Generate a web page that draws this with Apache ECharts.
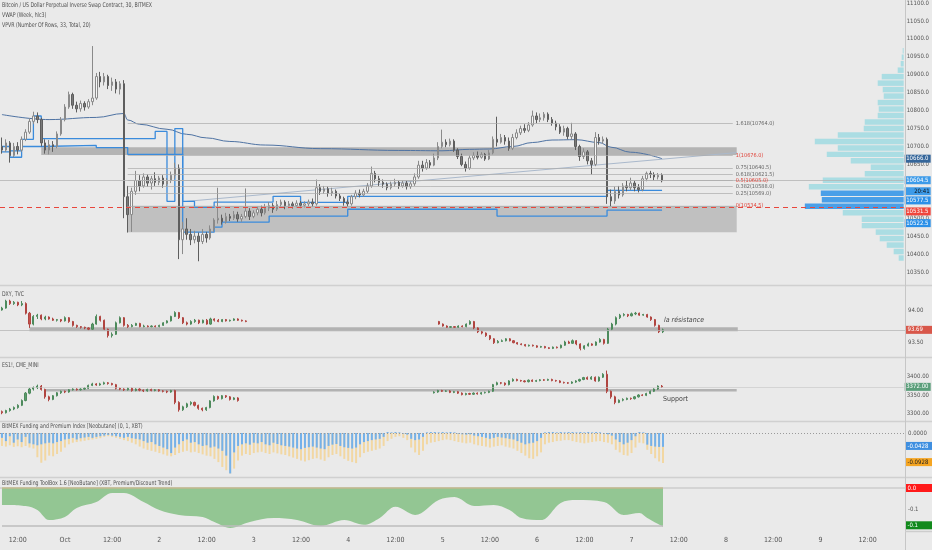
<!DOCTYPE html>
<html>
<head>
<meta charset="utf-8">
<script src="https://cdn.jsdelivr.net/npm/echarts@6.0.0/dist/echarts.min.js"></script>
<style>
html,body{margin:0;padding:0;background:#eaeaea;}
#chart{width:932px;height:550px;}
</style>
</head>
<body>
<div id="chart"></div>
<script>
// ================= DATA =================
const slotStartUTC = Date.UTC(2020, 8, 30, 8);   // first hourly slot: 30 Sep 2020 08:00 UTC
const slotCount = 230;                              // visible hourly slots
const monthNames = ['Jan','Feb','Mar','Apr','May','Jun','Jul','Aug','Sep','Oct','Nov','Dec'];

const paneTitles = [
  'Bitcoin / US Dollar Perpetual Inverse Swap Contract, 30, BITMEX',
  'VWAP (Week, hlc3)',
  'VPVR (Number Of Rows, 33, Total, 20)',
  'DXY, TVC',
  'ES1!, CME_MINI',
  'BitMEX Funding and Premium Index [Neobutane] (0, 1, XBT)',
  'BitMEX Funding ToolBox 1.6 [NeoButane] (XBT, Premium/Discount Trend)'
];

// BTC hourly candles [open, close, low, high], slot 0..168
const btcOHLC = [
[10700,10690,10680,10725],[10690,10710,10685,10720],[10710,10675,10655,10715],[10675,10700,10670,10710],
[10700,10690,10678,10712],[10690,10720,10685,10728],[10720,10740,10715,10748],[10740,10770,10735,10778],
[10770,10785,10762,10797],[10785,10775,10765,10795],[10775,10710,10700,10780],[10710,10690,10680,10720],
[10690,10705,10678,10718],[10705,10700,10685,10715],[10700,10735,10695,10742],[10735,10775,10730,10782],
[10775,10810,10770,10818],[10810,10845,10805,10853],[10845,10815,10805,10850],[10815,10805,10795,10825],
[10805,10820,10797,10828],[10820,10810,10800,10826],[10810,10825,10805,10832],[10825,10835,10815,10980],
[10835,10895,10830,10905],[10895,10880,10865,10908],[10880,10895,10870,10905],[10895,10870,10860,10900],
[10870,10880,10855,10892],[10880,10860,10848,10888],[10860,10875,10845,10882],[10875,10560,10500,10885],
[10560,10510,10460,10590],[10510,10575,10462,10585],[10575,10605,10565,10632],[10605,10590,10575,10620],
[10590,10615,10585,10625],[10615,10598,10588,10622],[10598,10610,10580,10618],[10610,10600,10590,10628],
[10600,10612,10592,10618],[10612,10595,10585,10620],[10595,10605,10588,10612],[10605,10620,10598,10630],
[10620,10640,10610,10655],[10640,10440,10386,10650],[10440,10470,10400,10490],[10470,10455,10440,10500],
[10455,10440,10425,10470],[10440,10450,10430,10465],[10450,10435,10380,10460],[10435,10455,10428,10470],
[10455,10445,10432,10462],[10445,10470,10440,10480],[10470,10495,10462,10500],[10495,10500,10485,10585],
[10500,10490,10482,10510],[10490,10505,10485,10515],[10505,10500,10492,10512],[10500,10510,10495,10520],
[10510,10498,10490,10518],[10498,10505,10490,10512],[10505,10520,10500,10583],[10520,10505,10495,10528],
[10505,10515,10500,10522],[10515,10525,10508,10532],[10525,10515,10505,10535],[10515,10528,10510,10540],
[10528,10535,10520,10545],[10535,10525,10515,10542],[10525,10538,10520,10548],[10538,10545,10530,10552],
[10545,10535,10525,10550],[10535,10540,10528,10548],[10540,10535,10527,10546],[10535,10542,10530,10550],
[10542,10536,10528,10548],[10536,10540,10530,10547],[10540,10545,10533,10552],[10545,10540,10532,10555],
[10540,10585,10535,10608],[10585,10575,10565,10595],[10575,10582,10568,10590],[10582,10570,10560,10588],
[10570,10575,10562,10585],[10575,10562,10555,10580],[10562,10555,10548,10568],[10555,10545,10535,10560],
[10545,10540,10532,10552],[10540,10560,10535,10565],[10560,10570,10553,10578],[10570,10565,10558,10580],
[10565,10575,10560,10582],[10575,10590,10570,10598],[10590,10625,10585,10644],[10625,10610,10600,10632],
[10610,10600,10590,10618],[10600,10595,10585,10608],[10595,10585,10578,10600],[10585,10595,10580,10602],
[10595,10600,10588,10610],[10600,10590,10582,10605],[10590,10598,10585,10606],[10598,10588,10580,10604],
[10588,10596,10582,10602],[10596,10615,10590,10625],[10615,10648,10610,10660],[10648,10640,10630,10660],
[10640,10655,10635,10665],[10655,10648,10640,10662],[10648,10668,10645,10680],[10668,10700,10662,10712],
[10700,10712,10695,10747],[10712,10705,10698,10720],[10705,10715,10700,10722],[10715,10690,10685,10720],
[10690,10672,10665,10695],[10672,10650,10645,10680],[10650,10640,10630,10658],[10640,10668,10635,10675],
[10668,10675,10662,10684],[10675,10670,10664,10686],[10670,10678,10666,10684],[10678,10665,10660,10682],
[10665,10682,10662,10690],[10682,10720,10678,10728],[10720,10712,10700,10783],[10712,10725,10708,10735],
[10725,10715,10705,10732],[10715,10695,10688,10725],[10695,10725,10690,10735],[10725,10738,10720,10748],
[10738,10750,10732,10758],[10750,10745,10738,10762],[10745,10760,10740,10768],[10760,10785,10755,10800],
[10785,10775,10765,10795],[10775,10780,10768,10792],[10780,10790,10772,10796],[10790,10775,10768,10795],
[10775,10765,10758,10782],[10765,10755,10745,10772],[10755,10740,10735,10762],[10740,10750,10730,10758],
[10750,10728,10720,10755],[10728,10735,10719,10766],[10735,10700,10690,10740],[10700,10672,10660,10705],
[10672,10685,10665,10695],[10685,10660,10650,10690],[10660,10650,10622,10668],[10650,10725,10645,10740],
[10725,10715,10705,10735],[10715,10720,10708,10728],[10720,10560,10540,10725],[10560,10548,10533,10580],
[10548,10575,10540,10588],[10575,10565,10555,10590],[10565,10590,10560,10598],[10590,10585,10575,10605],
[10585,10598,10578,10613],[10598,10585,10575,10605],[10585,10580,10572,10595],[10580,10610,10575,10618],
[10610,10625,10603,10630],[10625,10622,10612,10632],[10622,10615,10605,10628],[10615,10620,10608,10626],
[10620,10604.5,10600,10625]
];

// weekly VWAP [slot, price]
const btcVwap = [[0,10789],[12,10775],[24,10781],[31,10792],[32,10774],[35,10762],[42,10748],[47,10734],
  [52,10724],[58,10714],[67,10704],[81,10694],[101,10689],[112,10688],[119,10692],[124,10693],[130,10700],
  [135,10711],[140,10718],[146,10719],[152,10711],[155,10698],[160,10684],[168,10666]];
const vwapLast = 10666.0;

// stepped blue levels [slot, price]
const stepUpper = [[0,10700],[2,10688],[5,10720],[8,10785],[10,10722],[39,10742],[42,10547],[44,10750],
  [46,10547],[49,10530],[54,10545],[69,10561],[76,10544],[88,10561],[154,10577.5],[168,10577.5]];
const stepLower = [[0,10685],[2,10670],[5,10700],[10,10703],[24,10697],[32,10678],[46,10461],[54,10475],
  [56,10489],[68,10506],[88,10525],[126,10506],[154,10522.5],[168,10522.5]];
const stepUpperLast = 10577.5, stepLowerLast = 10522.5;

// drawn trend line [slot, price]
const trendLine = [[47,10547],[187,10683]];

// fibonacci retracement
const fibStartSlot = 32, fibEndSlot = 186;
const fibLevels = [1.618, 1, 0.75, 0.618, 0.5, 0.382, 0.25, 0];
const fibPrices = [10764.0, 10676.0, 10640.5, 10621.5, 10605.0, 10588.0, 10569.0, 10534.5];

// grey zones [fromSlot, toSlot, low, high]
const zoneUpper = [10, 187, 10676, 10698];
const zoneLower = [32, 187, 10461, 10534.5];

const btcLast = 10604.5, btcCountdown = '20:41', btcMarkLine = 10531.5;
const mainTicks = [10350,10400,10450,10500,10550,10600,10650,10700,10750,10800,10850,10900,10950,11000,11050,11100];

// VPVR: 33 rows, bottom row first
const vpvrLow = 10380, vpvrRowSize = 18.06;
const vpvrVolumes = [5,10,17,24,28,42,42,61,99,82,83,95,81,39,33,53,77,66,89,66,40,39,26,25,26,20,21,26,22,6,3,2,1];
const vpvrHighlightRows = [8,9,10];

// DXY hourly [open, close, low, high]
const dxyStartA = 0;
const dxyA = [
[94.00,94.03,93.99,94.05],[94.03,94.14,94.02,94.16],[94.14,94.10,94.08,94.16],[94.10,94.12,94.08,94.14],
[94.12,94.08,94.06,94.13],[94.08,94.10,94.06,94.14],[94.10,93.95,93.93,94.12],[93.95,93.78,93.72,93.97],
[93.78,93.90,93.76,93.92],[93.90,93.92,93.86,93.94],[93.92,93.86,93.84,93.93],[93.86,93.89,93.84,93.91],
[93.89,93.86,93.85,93.90],[93.86,93.84,93.83,93.88],[93.84,93.85,93.82,93.86],[93.85,93.83,93.81,93.86],
[93.83,93.88,93.82,93.90],[93.88,93.82,93.80,93.89],[93.82,93.76,93.74,93.83],[93.76,93.74,93.72,93.77],
[93.74,93.73,93.71,93.75],[93.73,93.72,93.70,93.74],[93.72,93.70,93.68,93.73],[93.70,93.78,93.69,93.80],
[93.78,93.90,93.77,93.93],[93.90,93.84,93.82,93.91],[93.84,93.70,93.68,93.85],[93.70,93.60,93.57,93.71],
[93.60,93.62,93.57,93.65],[93.62,93.80,93.61,93.82],[93.80,93.88,93.79,93.90],[93.88,93.76,93.74,93.89],
[93.76,93.74,93.72,93.78],[93.74,93.76,93.73,93.78],[93.76,93.79,93.75,93.80],[93.79,93.74,93.73,93.80],
[93.74,93.75,93.73,93.77],[93.75,93.74,93.73,93.76],[93.74,93.75,93.73,93.76],[93.75,93.74,93.73,93.76],
[93.74,93.76,93.73,93.77],[93.76,93.80,93.75,93.81],[93.80,93.83,93.79,93.84],[93.83,93.90,93.82,93.91],
[93.90,93.96,93.89,93.98],[93.96,93.88,93.86,93.97],[93.88,93.80,93.78,93.89],[93.80,93.78,93.76,93.82],
[93.78,93.82,93.77,93.84],[93.82,93.84,93.80,93.86],[93.84,93.80,93.78,93.85],[93.80,93.84,93.79,93.85],
[93.84,93.78,93.77,93.86],[93.78,93.86,93.77,93.88],[93.86,93.84,93.82,93.87],[93.84,93.82,93.81,93.86],
[93.82,93.85,93.81,93.86],[93.85,93.83,93.82,93.86],[93.83,93.84,93.82,93.85],[93.84,93.86,93.83,93.87],
[93.86,93.84,93.83,93.87],[93.84,93.83,93.82,93.85],[93.83,93.82,93.81,93.84]
];
const dxyStartB = 111;
const dxyB = [
[93.82,93.78,93.77,93.83],[93.78,93.75,93.74,93.79],[93.75,93.73,93.72,93.76],[93.73,93.74,93.72,93.75],
[93.74,93.73,93.72,93.75],[93.73,93.75,93.72,93.76],[93.75,93.74,93.73,93.76],[93.74,93.78,93.73,93.79],
[93.78,93.82,93.77,93.84],[93.82,93.72,93.70,93.83],[93.72,93.66,93.64,93.73],[93.66,93.64,93.62,93.68],
[93.64,93.60,93.58,93.65],[93.60,93.55,93.53,93.61],[93.55,93.49,93.47,93.56],[93.49,93.51,93.48,93.53],
[93.51,93.52,93.50,93.54],[93.52,93.55,93.51,93.56],[93.55,93.52,93.51,93.56],[93.52,93.49,93.48,93.53],
[93.49,93.47,93.46,93.50],[93.47,93.46,93.45,93.48],[93.46,93.44,93.43,93.47],[93.44,93.45,93.43,93.46],
[93.45,93.44,93.43,93.46],[93.44,93.42,93.41,93.45],[93.42,93.43,93.41,93.44],[93.43,93.41,93.40,93.44],
[93.41,93.40,93.39,93.42],[93.40,93.42,93.39,93.43],[93.42,93.41,93.40,93.43],[93.41,93.45,93.40,93.46],
[93.45,93.50,93.44,93.52],[93.50,93.48,93.47,93.52],[93.48,93.52,93.47,93.54],[93.52,93.47,93.45,93.53],
[93.47,93.40,93.37,93.48],[93.40,93.44,93.38,93.45],[93.44,93.47,93.43,93.49],[93.47,93.45,93.44,93.48],
[93.45,93.50,93.44,93.51],[93.50,93.54,93.49,93.56],[93.54,93.48,93.46,93.55],[93.48,93.70,93.47,93.72],
[93.70,93.78,93.68,93.80],[93.78,93.88,93.76,93.90],[93.88,93.92,93.86,93.94],[93.92,93.93,93.90,93.95],
[93.93,93.91,93.89,93.94],[93.91,93.94,93.90,93.96],[93.94,93.95,93.92,93.97],[93.95,93.92,93.91,93.96],
[93.92,93.93,93.91,93.94],[93.93,93.89,93.88,93.94],[93.89,93.85,93.83,93.90],[93.85,93.76,93.74,93.86],
[93.76,93.66,93.64,93.77],[93.66,93.69,93.64,93.71]
];
const dxyLast = 93.69;
const dxyZone = [7, 187, 93.67, 93.73];
const dxyNote = {slot: 168, value: 93.84, text: 'la résistance'};
const dxyTicks = [93.5, 94.0];

// ES1! hourly [open, close, low, high]
const esStartA = 0;
const esA = [
[3305,3302,3298,3308],[3302,3308,3300,3310],[3308,3312,3305,3315],[3312,3316,3309,3319],[3316,3322,3313,3325],
[3322,3335,3320,3338],[3335,3355,3333,3358],[3355,3366,3352,3369],[3366,3370,3362,3373],[3370,3374,3366,3378],
[3374,3365,3362,3377],[3365,3345,3340,3367],[3345,3338,3333,3348],[3338,3348,3336,3350],[3348,3356,3346,3358],
[3356,3360,3353,3362],[3360,3358,3355,3362],[3358,3364,3356,3366],[3364,3366,3362,3368],[3366,3364,3362,3368],
[3364,3366,3362,3368],[3366,3368,3364,3371],[3368,3376,3366,3378],[3376,3380,3374,3383],[3380,3377,3375,3382],
[3377,3380,3375,3383],[3380,3383,3378,3386],[3383,3381,3378,3385],[3381,3378,3376,3383],[3378,3368,3365,3380],
[3368,3366,3363,3370],[3366,3364,3361,3368],[3364,3368,3362,3370],[3368,3362,3359,3370],[3362,3366,3360,3368],
[3366,3363,3360,3368],[3363,3361,3358,3365],[3361,3365,3359,3367],[3365,3362,3360,3367],[3362,3364,3360,3366],
[3364,3361,3359,3366],[3361,3360,3357,3363],[3360,3358,3355,3362],[3358,3362,3356,3364],[3362,3330,3325,3364],
[3330,3310,3305,3333],[3310,3318,3307,3321],[3318,3326,3315,3329],[3326,3330,3322,3333],[3330,3322,3319,3332],
[3322,3314,3310,3324],[3314,3310,3306,3316],[3310,3316,3307,3318],[3316,3334,3314,3336],[3334,3346,3332,3349],
[3346,3340,3337,3348],[3340,3348,3338,3350],[3348,3345,3342,3350],[3345,3338,3335,3347],[3338,3342,3336,3344],
[3342,3335,3332,3344]
];
const esStartB = 110;
const esB = [
[3356,3358,3354,3360],[3358,3362,3356,3364],[3362,3360,3358,3364],[3360,3361,3358,3363],[3361,3357,3355,3363],
[3357,3359,3355,3361],[3359,3355,3353,3361],[3355,3351,3349,3357],[3351,3354,3349,3356],[3354,3352,3350,3356],
[3352,3355,3350,3357],[3355,3353,3351,3357],[3353,3356,3351,3358],[3356,3357,3354,3359],[3357,3360,3355,3362],
[3360,3378,3358,3380],[3378,3383,3376,3386],[3383,3382,3379,3385],[3382,3378,3375,3384],[3378,3388,3376,3390],
[3388,3392,3386,3395],[3392,3389,3387,3394],[3389,3388,3386,3391],[3388,3386,3384,3390],[3386,3390,3384,3392],
[3390,3387,3385,3392],[3387,3389,3385,3391],[3389,3391,3387,3393],[3391,3390,3388,3393],[3390,3392,3388,3394],
[3392,3389,3387,3394],[3389,3388,3386,3391],[3388,3384,3382,3390],[3384,3383,3381,3386],[3383,3382,3380,3385],
[3382,3385,3380,3387],[3385,3388,3383,3390],[3388,3392,3386,3394],[3392,3397,3390,3399],[3397,3393,3391,3400],
[3393,3398,3391,3401],[3398,3388,3386,3400],[3388,3398,3386,3400],[3398,3406,3396,3409],[3406,3360,3355,3416],
[3360,3345,3340,3362],[3345,3330,3325,3348],[3330,3336,3328,3338],[3336,3338,3333,3341],[3338,3341,3336,3343],
[3341,3340,3337,3343],[3340,3345,3338,3347],[3345,3350,3343,3352],[3350,3349,3347,3352],[3349,3354,3347,3356],
[3354,3360,3352,3362],[3360,3366,3358,3368],[3366,3374,3364,3376],[3374,3372,3369,3377]
];
const esLast = 3372.00;
const esZone = [11, 187, 3359.5, 3366];
const esNote = {slot: 168, value: 3338, text: 'Support'};
const esTicks = [3300, 3350, 3400];

// Funding / premium index, hourly from slot 0
const premiumIndex = [
-.040,-.042,-.038,-.043,-.041,-.044,-.040,-.045,-.048,
-.075,-.092,-.085,
-.070,-.072,-.065,-.058,-.045,
-.035,-.030,-.028,-.026,-.024,-.022,-.020,-.018,-.016,
-.012,-.010,-.012,-.015,-.018,
-.022,-.025,-.030,-.035,-.042,
-.048,-.052,-.055,-.058,
-.062,-.066,-.070,-.072,-.068,-.062,
-.058,-.055,-.060,-.058,-.062,
-.066,-.070,-.072,-.080,
-.090,-.105,-.115,-.125,-.110,-.085,
-.070,-.065,-.068,-.062,
-.060,-.058,-.062,-.065,-.060,-.063,-.066,-.068,
-.072,-.076,-.080,-.085,-.088,-.084,-.080,-.078,-.082,-.086,
-.075,-.068,-.065,-.072,-.080,-.086,-.090,-.093,-.075,
-.062,-.058,-.055,-.052,-.048,-.040,
-.025,-.018,-.012,-.010,-.015,-.022,
-.045,-.060,-.068,-.055,
-.035,-.030,-.028,-.025,-.022,-.020,-.022,-.025,-.028,-.030,-.032,-.030,
-.035,-.038,-.040,-.042,-.045,-.042,-.040,-.038,-.042,-.045,-.048,
-.055,-.062,-.070,-.078,-.080,-.072,-.060,
-.035,-.030,-.028,-.025,-.024,-.022,-.022,-.025,-.028,-.030,-.032,-.030,-.028,-.026,-.025,-.028,-.030,-.035,
-.052,-.060,-.068,-.070,-.062,-.045,
-.030,-.032,
-.052,-.065,-.078,-.088,-.0928
];
const fundingRate = [
-.015,-.025,-.010,-.030,-.020,-.028,-.012,-.032,-.035,
-.038,-.035,-.032,
-.030,-.032,-.028,-.025,-.020,
-.018,-.015,-.020,-.016,-.014,-.012,-.015,-.012,-.010,
-.008,-.006,-.008,-.010,-.012,
-.015,-.012,-.016,-.018,-.020,
-.025,-.030,-.028,-.035,
-.040,-.045,-.050,-.062,-.045,-.035,
-.025,-.020,-.030,-.028,-.035,
-.040,-.038,-.045,-.042,
-.048,-.055,-.070,-.125,-.060,-.040,
-.035,-.032,-.036,-.030,
-.032,-.028,-.035,-.038,-.030,-.034,-.038,-.040,
-.042,-.045,-.048,-.050,-.046,-.044,-.042,-.045,-.048,-.050,
-.040,-.036,-.034,-.040,-.044,-.046,-.048,-.045,-.035,
-.028,-.025,-.022,-.020,-.018,-.012,
.003,.002,.003,.002,-.002,-.005,
-.018,-.022,-.020,-.012,
.002,.003,.003,.002,.003,.002,.003,.002,-.002,-.004,-.005,-.004,
-.008,-.010,-.012,-.015,-.018,-.015,-.012,-.014,-.016,-.018,-.020,
-.025,-.030,-.035,-.032,-.030,-.025,-.015,
.002,.003,.003,.002,.003,.002,.003,.003,.002,.003,.002,.003,.002,.003,.002,-.002,-.004,-.008,
-.020,-.028,-.035,-.030,-.022,-.010,
.003,.002,
-.036,-.040,-.042,-.043,-.0428
];
const fundingLast = -0.0428, premiumLast = -0.0928;
const fundingTicks = [0];

// Funding ToolBox premium/discount trend [slot, value]
const toolboxTrend = [[0,-.077],[6,-.082],[9,-.100],[12,-.146],[16,-.132],[19,-.091],[24,-.064],[28,-.023],
  [31,-.023],[36,-.064],[40,-.100],[45,-.123],[51,-.132],[54,-.155],[58,-.182],[63,-.155],[69,-.137],
  [75,-.146],[81,-.173],[87,-.146],[92,-.168],[96,-.137],[100,-.086],[105,-.123],[111,-.055],[115,-.041],
  [120,-.082],[125,-.077],[129,-.100],[132,-.137],[137,-.146],[142,-.068],[146,-.055],[153,-.064],
  [158,-.123],[162,-.114],[164,-.137],[168,-.177]];
const toolboxTop = 0.0, toolboxBottom = -0.17;
const toolboxTicks = [-0.1];

// ================= CHART =================
const FONT = "'Liberation Sans Narrow','DejaVu Sans Condensed','Roboto Condensed',Roboto,sans-serif";
const categories = [];
for (let i = 0; i < slotCount; i++) categories.push(slotStartUTC + i * 3600e3);

const grids = [
  {left: 0, right: 27, top: 0, height: 285},
  {left: 0, right: 27, top: 286, height: 71},
  {left: 0, right: 27, top: 358, height: 63},
  {left: 0, right: 27, top: 422, height: 55},
  {left: 0, right: 27, top: 478, height: 53}
];
const titleTops = [2, 11.5, 21.5, 290.5, 361.5, 422.5, 479.5];

function hiddenX(g) {
  return {type: 'category', gridIndex: g, data: categories, boundaryGap: true, show: false};
}
const xAxes = [hiddenX(0), hiddenX(1), hiddenX(2), hiddenX(3), {
  type: 'category', gridIndex: 4, data: categories, boundaryGap: true,
  axisLine: {show: true, lineStyle: {color: '#cdcdcd', width: 1.5}},
  axisTick: {show: false},
  axisLabel: {
    interval: (idx, val) => { const h = new Date(+val).getUTCHours(); return h === 0 || h === 12; },
    formatter: v => { const d = new Date(+v); if (d.getUTCHours() === 12) return '12:00';
      return d.getUTCDate() === 1 ? monthNames[d.getUTCMonth()] : String(d.getUTCDate()); },
    color: '#555', fontSize: 7, margin: 6, fontFamily: FONT
  }
}, {type: 'value', gridIndex: 0, min: 0, max: 905, inverse: true, show: false}];

function yAx(g, min, max, ticks, fmt) {
  return {type: 'value', gridIndex: g, position: 'right', min: min, max: max,
    axisLine: {show: false}, axisTick: {show: false}, splitLine: {show: false},
    axisLabel: {customValues: ticks, formatter: fmt, color: '#555', fontSize: 6, margin: 3, fontFamily: FONT}};
}
const trunc1 = v => (Math.trunc(v * 10) / 10).toFixed(1);
const yAxes = [
  yAx(0, 10313.8, 11108.4, mainTicks, v => v.toFixed(1)),
  yAx(1, 93.266, 94.375, dxyTicks, v => v.toFixed(2)),
  yAx(2, 3279.7, 3450, esTicks, v => v.toFixed(2)),
  yAx(3, -0.136, 0.034, fundingTicks, v => v.toFixed(4)),
  yAx(4, -0.196, 0.0455, toolboxTicks, trunc1)
];

// price tag on the right axis, shifted (px) down to avoid overlap like the original
function tag(text, bg, fg, shift, extra) {
  const rich = {
    t: {backgroundColor: bg, color: fg, padding: [1, 1, 1, 1.5], width: 23.5, fontSize: 6, lineHeight: 11, fontFamily: FONT},
    c: {backgroundColor: bg, color: '#111', padding: [1, 1, 1, 1.5], width: 23.5, fontSize: 6, lineHeight: 11, fontFamily: FONT, align: 'right'},
    sp: {lineHeight: Math.max(1, Math.abs(shift) * 2), fontSize: 1, color: 'rgba(0,0,0,0)'}
  };
  let f = '{t|' + text + '}' + (extra ? '\n{c|' + extra + '}' : '');
  if (shift > 0) f = '{sp| }\n' + f; else if (shift < 0) f = f + '\n{sp| }';
  return {show: true, position: 'end', distance: 1, formatter: f, rich: rich};
}
const noLine = {color: 'rgba(0,0,0,0)', width: 0};
const tagLine = (value, lineStyle, label) => ({yAxis: value, lineStyle: lineStyle, label: label});

function withSlots(arr, start) { return arr.map((d, k) => [start + k, d[0], d[1], d[2], d[3]]); }

const fibRed = [1, 0.5, 0];
const fibData = fibLevels.map((lvl, k) => [
  {coord: [fibStartSlot, fibPrices[k]],
   lineStyle: {color: '#ababab', width: 0.7, type: 'solid'},
   label: {show: true, position: 'end', distance: 3, formatter: lvl + '(' + fibPrices[k].toFixed(1) + ')',
     color: fibRed.includes(lvl) ? '#e0443a' : '#666', fontSize: 5.5, fontFamily: FONT}},
  {coord: [fibEndSlot, fibPrices[k]]}
]);

const vpvrData = vpvrVolumes.map((v, k) => ({
  value: [v, vpvrLow + k * vpvrRowSize, vpvrLow + (k + 1) * vpvrRowSize],
  itemStyle: {color: vpvrHighlightRows.includes(k) ? '#4a9fe8' : 'rgba(160,218,226,0.85)'}
}));

const upDownStyle = {color: '#5c9c6c', color0: '#c5504b', borderColor: '#4d8a5c', borderColor0: '#b04540', borderWidth: 1};

const series = [
  // VPVR
  {type: 'custom', xAxisIndex: 5, yAxisIndex: 0, z: 1, silent: true, data: vpvrData, encode: {x: 0, y: [1, 2]},
   renderItem: (params, api) => {
     const a = api.coord([0, api.value(2)]), b = api.coord([api.value(0), api.value(1)]);
     return {type: 'rect', shape: {x: Math.min(a[0], b[0]), y: a[1] + 0.5, width: Math.abs(b[0] - a[0]), height: Math.max(1, b[1] - a[1] - 1)},
       style: {fill: api.style().fill}};
   }},
  // BTC candles
  {type: 'candlestick', name: 'XBTUSD', xAxisIndex: 0, yAxisIndex: 0, z: 4, barWidth: 2,
   data: withSlots(btcOHLC, 0), encode: {x: 0, y: [1, 2, 3, 4]},
   itemStyle: {color: '#f6f6f6', color0: '#7a7a7a', borderColor: '#8a8a8a', borderColor0: '#5e5e5e', borderWidth: 1},
   markArea: {silent: true, z: 1, data: [
     [{coord: [zoneUpper[0], zoneUpper[3]], itemStyle: {color: 'rgba(135,135,135,0.55)'}}, {coord: [zoneUpper[1], zoneUpper[2]]}],
     [{coord: [zoneLower[0], zoneLower[3]], itemStyle: {color: 'rgba(150,150,150,0.5)'}}, {coord: [zoneLower[1], zoneLower[2]]}]
   ]},
   markLine: {silent: true, symbol: ['none', 'none'], animation: false, data: [
     tagLine(btcLast, {color: '#b4b4b4', width: 0.8, type: 'solid'}, tag(btcLast.toFixed(1), '#3d9be9', '#fff', 5, btcCountdown)),
     tagLine(btcMarkLine, {color: '#e8463c', width: 1.2, type: [5, 4]}, tag(btcMarkLine.toFixed(1), '#f0463c', '#fff', 4.5)),
     tagLine(vwapLast, noLine, tag(vwapLast.toFixed(1), '#35669a', '#fff', 0)),
     tagLine(stepUpperLast, noLine, tag(stepUpperLast.toFixed(1), '#2b90e8', '#fff', 10)),
     tagLine(stepLowerLast, noLine, tag(stepLowerLast.toFixed(1), '#2b90e8', '#fff', 13))
   ]}},
  // VWAP
  {type: 'line', xAxisIndex: 0, yAxisIndex: 0, z: 3, data: btcVwap, showSymbol: false, smooth: 0.4, smoothMonotone: 'x',
   lineStyle: {color: '#4f73a3', width: 1}},
  // step levels
  {type: 'line', xAxisIndex: 0, yAxisIndex: 0, z: 3, data: stepUpper, showSymbol: false, step: 'end',
   lineStyle: {color: '#3a8bdc', width: 1.3}},
  {type: 'line', xAxisIndex: 0, yAxisIndex: 0, z: 3, data: stepLower, showSymbol: false, step: 'end',
   lineStyle: {color: '#3a8bdc', width: 1.3}},
  // trend line + fib
  {type: 'line', xAxisIndex: 0, yAxisIndex: 0, z: 2, data: trendLine, showSymbol: false,
   lineStyle: {color: '#aab9cc', width: 1},
   markLine: {silent: true, symbol: ['none', 'none'], animation: false, data: fibData}},

  // DXY
  {type: 'candlestick', xAxisIndex: 1, yAxisIndex: 1, z: 4, barWidth: 1.6,
   data: withSlots(dxyA, dxyStartA).concat(withSlots(dxyB, dxyStartB)), encode: {x: 0, y: [1, 2, 3, 4]},
   itemStyle: upDownStyle,
   markArea: {silent: true, data: [[{coord: [dxyZone[0], dxyZone[3]], itemStyle: {color: 'rgba(140,140,140,0.6)'}}, {coord: [dxyZone[1], dxyZone[2]]}]]},
   markLine: {silent: true, symbol: ['none', 'none'], animation: false, data: [
     tagLine(dxyLast, {color: '#b8b8b8', width: 0.8, type: 'solid'}, tag(dxyLast.toFixed(2), '#d8574a', '#fff', 0))]},
   markPoint: {silent: true, data: [{coord: [dxyNote.slot, dxyNote.value], symbol: 'circle', symbolSize: 0,
     label: {show: true, position: 'right', distance: 1, formatter: dxyNote.text, fontStyle: 'italic', fontSize: 7, color: '#444', fontFamily: FONT}}]}},

  // ES1!
  {type: 'candlestick', xAxisIndex: 2, yAxisIndex: 2, z: 4, barWidth: 1.6,
   data: withSlots(esA, esStartA).concat(withSlots(esB, esStartB)), encode: {x: 0, y: [1, 2, 3, 4]},
   itemStyle: upDownStyle,
   markArea: {silent: true, data: [[{coord: [esZone[0], esZone[3]], itemStyle: {color: 'rgba(140,140,140,0.6)'}}, {coord: [esZone[1], esZone[2]]}]]},
   markLine: {silent: true, symbol: ['none', 'none'], animation: false, data: [
     tagLine(esLast, {color: '#c4c4c4', width: 0.6, type: 'solid'}, tag(esLast.toFixed(2), '#5a9e7a', '#fff', 0))]},
   markPoint: {silent: true, data: [{coord: [esNote.slot, esNote.value], symbol: 'circle', symbolSize: 0,
     label: {show: true, position: 'right', distance: 1, formatter: esNote.text, fontSize: 7, color: '#444', fontFamily: FONT}}]}},

  // Funding and premium index
  {type: 'bar', xAxisIndex: 3, yAxisIndex: 3, z: 3, barWidth: 2, barGap: '-100%', data: premiumIndex,
   itemStyle: {color: '#f2d7a2'},
   markLine: {silent: true, symbol: ['none', 'none'], animation: false, data: [
     tagLine(0, {color: '#9a9a9a', width: 1, type: [1, 2]}, {show: false}),
     tagLine(fundingLast, noLine, tag(fundingLast.toFixed(4), '#3f8fe0', '#fff', 0)),
     tagLine(premiumLast, noLine, tag(premiumLast.toFixed(4), '#f5a522', '#222', 0))
   ]}},
  {type: 'bar', xAxisIndex: 3, yAxisIndex: 3, z: 4, barWidth: 2, barGap: '-100%', data: fundingRate,
   itemStyle: {color: '#74b1ea'}},

  // ToolBox trend area (between trend curve and zero line)
  {type: 'line', xAxisIndex: 4, yAxisIndex: 4, z: 3, data: toolboxTrend, stack: 'tb', stackStrategy: 'all',
   showSymbol: false, smooth: 0.35, lineStyle: {width: 0, color: 'rgba(0,0,0,0)'},
   markLine: {silent: true, symbol: ['none', 'none'], animation: false, data: [
     [{coord: [0, toolboxBottom], lineStyle: {color: '#bdbdbd', width: 1.5, type: 'solid'}, label: {show: false}}, {coord: [168, toolboxBottom]}],
     tagLine(toolboxTop, noLine, tag(trunc1(toolboxTop), '#ff1a1a', '#fff', 0)),
     tagLine(toolboxBottom, noLine, tag(trunc1(toolboxBottom), '#128a1c', '#fff', 0))
   ]}},
  {type: 'line', xAxisIndex: 4, yAxisIndex: 4, z: 3, data: toolboxTrend.map(p => [p[0], toolboxTop - p[1]]), stack: 'tb', stackStrategy: 'all',
   showSymbol: false, smooth: 0.35, lineStyle: {width: 1.5, color: '#c4b98f'},
   areaStyle: {color: '#93c693', opacity: 1}}
];

const sepYs = [285.5, 357.5, 421.5, 477.5];
const graphic = sepYs.map(y => ({type: 'line', silent: true, z: 100,
  shape: {x1: 0, y1: y, x2: 932, y2: y}, style: {stroke: '#d0d0d0', lineWidth: 1.5}}))
  .concat([{type: 'line', silent: true, z: 100, shape: {x1: 905.5, y1: 0, x2: 905.5, y2: 550}, style: {stroke: '#c6c6c6', lineWidth: 1}},
           {type: 'line', silent: true, z: 100, shape: {x1: 905, y1: 531.5, x2: 932, y2: 531.5}, style: {stroke: '#cdcdcd', lineWidth: 1.5}}])
  // pane legends, horizontally condensed like the original's narrow font
  .concat(paneTitles.map((t, k) => ({type: 'text', silent: true, z: 100, x: 2, y: titleTops[k], scaleX: 0.8,
    style: {text: t, fontSize: 6.5, fill: '#505050', fontFamily: FONT, verticalAlign: 'top'}})));

const chart = echarts.init(document.getElementById('chart'));
chart.setOption({
  backgroundColor: '#eaeaea',
  animation: false,
  grid: grids,
  xAxis: xAxes,
  yAxis: yAxes,
  graphic: graphic,
  series: series
});
</script>
</body>
</html>
